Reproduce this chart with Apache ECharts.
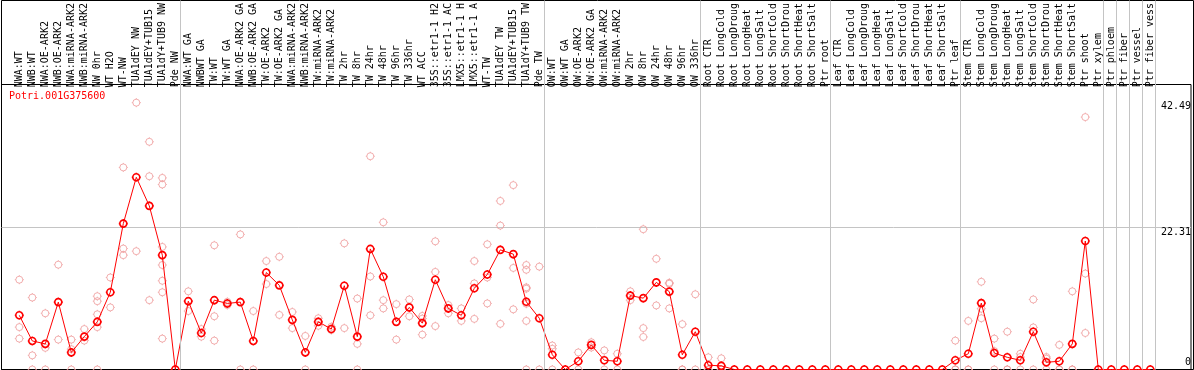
<!DOCTYPE html>
<html>
<head>
<meta charset="utf-8">
<script src="https://cdn.jsdelivr.net/npm/echarts@6/dist/echarts.min.js"></script>
<style>
  html, body { margin: 0; padding: 0; background: #fff; }
  #chart { width: 1194px; height: 370px; }
</style>
</head>
<body>
<div id="chart"></div>
<script>
// ---------------- data ----------------
const geneId = 'Potri.001G375600';

const categories = [
  'NWA:WT', 'NWB:WT', 'NWA:OE-ARK2', 'NWB:OE-ARK2', 'NWA:miRNA-ARK2', 'NWB:miRNA-ARK2',
  'NW 0hr', 'WT H2O', 'WT-NW', 'TUA1dEY NW', 'TUA1dEY+TUB15', 'TUA1dY+TUB9 NW', 'Pde NW',
  'NWA:WT GA', 'NWBWT GA', 'TW:WT', 'TW:WT GA', 'NWA:OE-ARK2 GA', 'NWB:OE-ARK2 GA',
  'TW:OE-ARK2', 'TW:OE-ARK2 GA', 'NWA:miRNA-ARK2', 'NWB:miRNA-ARK2', 'TW:miRNA-ARK2',
  'TW:miRNA-ARK2', 'TW 2hr', 'TW 8hr', 'TW 24hr', 'TW 48hr', 'TW 96hr', 'TW 336hr', 'WT ACC',
  '35S::etr1-1 H2', '35S::etr1-1 AC', 'LMX5::etr1-1 H', 'LMX5::etr1-1 A', 'WT-TW',
  'TUA1dEY TW', 'TUA1dEY+TUB15', 'TUA1dY+TUB9 TW', 'Pde TW',
  'OW:WT', 'OW:WT GA', 'OW:OE-ARK2', 'OW:OE-ARK2 GA', 'OW:miRNA-ARK2', 'OW:miRNA-ARK2',
  'OW 2hr', 'OW 8hr', 'OW 24hr', 'OW 48hr', 'OW 96hr', 'OW 336hr',
  'Root CTR', 'Root LongCold', 'Root LongDroug', 'Root LongHeat', 'Root LongSalt',
  'Root ShortCold', 'Root ShortDrou', 'Root ShortHeat', 'Root ShortSalt', 'Ptr root',
  'Leaf CTR', 'Leaf LongCold', 'Leaf LongDroug', 'Leaf LongHeat', 'Leaf LongSalt',
  'Leaf ShortCold', 'Leaf ShortDrou', 'Leaf ShortHeat', 'Leaf ShortSalt', 'Ptr leaf',
  'Stem CTR', 'Stem LongCold', 'Stem LongDroug', 'Stem LongHeat', 'Stem LongSalt',
  'Stem ShortCold', 'Stem ShortDrou', 'Stem ShortHeat', 'Stem ShortSalt', 'Ptr shoot',
  'Ptr xylem', 'Ptr phloem', 'Ptr fiber', 'Ptr vessel', 'Ptr fiber vess'
];

// number of categories in each separated group (left to right)
const groupSizes = [13, 28, 12, 10, 10, 11, 1, 1, 1, 1];

// mean expression per category (red line)
const means = [
  8.63, 4.55, 4.08, 10.73, 2.72, 5.23, 7.59, 12.30, 23.23, 30.61,
  26.06, 18.21, 0, 10.88, 5.81, 11.04, 10.52, 10.73, 4.55, 15.44,
  13.40, 7.90, 2.72, 7.59, 6.44, 13.34, 5.23, 19.20, 14.76, 7.59,
  9.89, 7.38, 14.29, 9.73, 8.63, 12.93, 15.12, 19.05, 18.37, 10.78,
  8.16, 2.35, 0, 1.31, 3.92, 1.47, 1.31, 11.77, 11.36, 13.87,
  12.40, 2.35, 6.02, 0.68, 0.58, 0, 0, 0, 0, 0,
  0, 0, 0, 0, 0, 0, 0, 0, 0, 0,
  0, 0, 1.47, 2.51, 10.57, 2.62, 1.94, 1.47, 6.02, 1.15,
  1.31, 4.08, 20.46, 0, 0, 0, 0, 0
];

// individual replicate values per category (pale circles)
const replicates = [
  [14.30, 6.75, 4.92], [11.46, 2.25, 0], [8.95, 3.45, 0], [16.69, 4.76], [4.76, 3.24, 0],
  [6.44, 4.60], [11.67, 10.88, 8.79, 6.75, 0], [14.65, 9.89], [32.18, 19.26, 18.21], [42.49, 18.84],
  [36.26, 30.77, 11.04], [30.51, 29.46, 19.52, 16.64, 14.13, 12.30, 4.92], [0], [12.45, 9.31], [6.44, 5.23],
  [19.78, 8.48, 4.60], [10.78, 10.26], [21.51, 0], [9.31, 0], [17.27, 13.61],
  [17.95, 8.69], [9.16, 6.59], [5.34, 0], [8.16, 6.96], [6.80, 6.28],
  [20.09, 6.59], [11.30, 4.08, 0], [33.96, 14.81, 8.63], [23.44, 11.04, 9.73], [10.41, 4.76],
  [11.15, 8.48], [8.53, 8.10, 5.55], [20.41, 15.54, 6.91], [10.26, 8.95], [9.73, 7.74],
  [17.27, 13.71, 8.06], [19.94, 14.65, 10.52], [26.84, 22.92, 7.27], [29.36, 16.17, 9.58],
  [16.64, 15.88, 13.08, 12.87, 10.47, 7.74, 0],
  [16.38, 0], [3.82, 3.30, 0], [0], [2.72, 0], [4.34, 3.50],
  [3.04, 0], [2.51, 0], [12.45, 11.04], [22.34, 6.59, 5.18], [17.63, 10.20],
  [13.81, 13.66, 9.73], [7.22, 0, 0], [11.98, 0], [1.94, 0, 0], [1.78, 0, 0],
  [0], [0], [0], [0], [0],
  [0], [0], [0], [0], [0],
  [0], [0], [0], [0], [0],
  [0], [0], [4.60, 0, 0], [7.74, 0, 0], [13.97, 9.68, 8.16],
  [4.92, 2.93, 0], [6.02, 0, 0], [2.51, 1.99, 0], [11.15, 6.70, 0], [1.99, 1.73, 0],
  [3.92, 0, 0], [12.45, 0, 0], [40.19, 15.28, 5.81], [0], [0],
  [0], [0], [0]
];

// right-hand value labels
const yTickLabels = [0, 22.31, 42.49];

// ---------------- layout / style ----------------
const MONO = 'DejaVu Sans Mono';
const DATA_LEFT = 12.8, DATA_RIGHT = 37.2;
const PLOT_TOP = 84.5, PLOT_BOTTOM = 0.5;
const SEP_SHIFT = -0.1;
const PALE = '#ef9b9b', RED = '#ff0000', GRID_GRAY = '#c4c4c4';
const yStep = yTickLabels[1];
const yMax = yStep * 2;

// circle with four small ticks
const markerPath = 'path://M3,10A7,7,0,1,1,17,10A7,7,0,1,1,3,10ZM10,1L10,3M10,17L10,19M1,10L3,10M17,10L19,10';

const replicatePoints = [];
replicates.forEach((vals, i) => vals.forEach(v => replicatePoints.push([i, v])));

const separators = [{ xAxis: -0.5 + SEP_SHIFT }];
let acc = 0;
groupSizes.forEach(n => { acc += n; separators.push({ xAxis: acc - 0.5 + SEP_SHIFT }); });

const chart = echarts.init(document.getElementById('chart'), null, { renderer: 'canvas' });
chart.setOption({
  animation: false,
  backgroundColor: '#ffffff',
  title: {
    text: geneId, left: 9, top: 91, padding: 0,
    textStyle: { color: RED, fontFamily: MONO, fontSize: 10, fontWeight: 'normal' }
  },
  grid: [
    { left: 1.5, right: 0.5, top: 0.5, bottom: 0.5, show: true, borderColor: '#000', borderWidth: 1, backgroundColor: 'transparent' },
    { left: 1.5, right: 0.5, top: PLOT_TOP, bottom: PLOT_BOTTOM, show: true, borderColor: '#000', borderWidth: 1, backgroundColor: 'transparent' },
    { left: DATA_LEFT, right: DATA_RIGHT, top: PLOT_TOP, bottom: PLOT_BOTTOM },
    { left: DATA_LEFT, right: DATA_RIGHT, top: 0.5, bottom: PLOT_BOTTOM }
  ],
  xAxis: [
    { gridIndex: 0, type: 'value', show: false },
    { gridIndex: 1, type: 'value', show: false },
    {
      gridIndex: 2, type: 'category', data: categories, position: 'top', boundaryGap: true,
      axisLine: { show: false }, axisTick: { show: false }, splitLine: { show: false },
      axisLabel: { interval: 0, rotate: 90, margin: 2, fontFamily: MONO, fontSize: 10, color: '#000' }
    },
    { gridIndex: 3, type: 'value', min: -0.5, max: categories.length - 0.5, show: false }
  ],
  yAxis: [
    { gridIndex: 0, type: 'value', show: false },
    {
      gridIndex: 1, type: 'value', min: 0, max: yMax, interval: yStep, position: 'right',
      axisLine: { show: false }, axisTick: { show: false },
      splitLine: { show: true, showMinLine: false, showMaxLine: false, lineStyle: { color: GRID_GRAY, width: 1 } },
      axisLabel: {
        inside: true, margin: 0, customValues: yTickLabels,
        verticalAlign: 'top', verticalAlignMinLabel: 'bottom', verticalAlignMaxLabel: 'top',
        color: '#000', fontFamily: MONO, fontSize: 10,
        formatter: function (v) {
          if (v === yTickLabels[0]) return '{lo|' + v + '}';
          if (v === yTickLabels[yTickLabels.length - 1]) return '{hi|' + v + '}';
          return '{mid|' + v + '}';
        },
        rich: {
          lo: { fontFamily: MONO, fontSize: 10, color: '#000', padding: [0, 0, 2, 0] },
          mid: { fontFamily: MONO, fontSize: 10, color: '#000', padding: [0, 0, 0, 0] },
          hi: { fontFamily: MONO, fontSize: 10, color: '#000', padding: [3, 0, 0, 0] }
        }
      }
    },
    { gridIndex: 2, type: 'value', min: 0, max: yMax, show: false },
    { gridIndex: 3, type: 'value', min: 0, max: 1, show: false }
  ],
  series: [
    {
      type: 'scatter', xAxisIndex: 3, yAxisIndex: 3, data: [], silent: true, z: 1,
      markLine: {
        silent: true, symbol: ['none', 'none'], label: { show: false },
        lineStyle: { color: GRID_GRAY, width: 1, type: 'solid' },
        emphasis: { disabled: true },
        data: separators
      }
    },
    {
      type: 'scatter', xAxisIndex: 2, yAxisIndex: 2, data: replicatePoints, z: 3,
      symbol: markerPath, symbolSize: 9,
      itemStyle: { color: 'rgba(0,0,0,0)', borderColor: PALE, borderWidth: 1 }
    },
    {
      type: 'line', xAxisIndex: 2, yAxisIndex: 2, data: means, z: 4,
      symbol: markerPath, symbolSize: 9, showAllSymbol: true,
      lineStyle: { color: RED, width: 1 },
      itemStyle: { color: 'rgba(0,0,0,0)', borderColor: RED, borderWidth: 1.6 }
    }
  ]
});
</script>
</body>
</html>
